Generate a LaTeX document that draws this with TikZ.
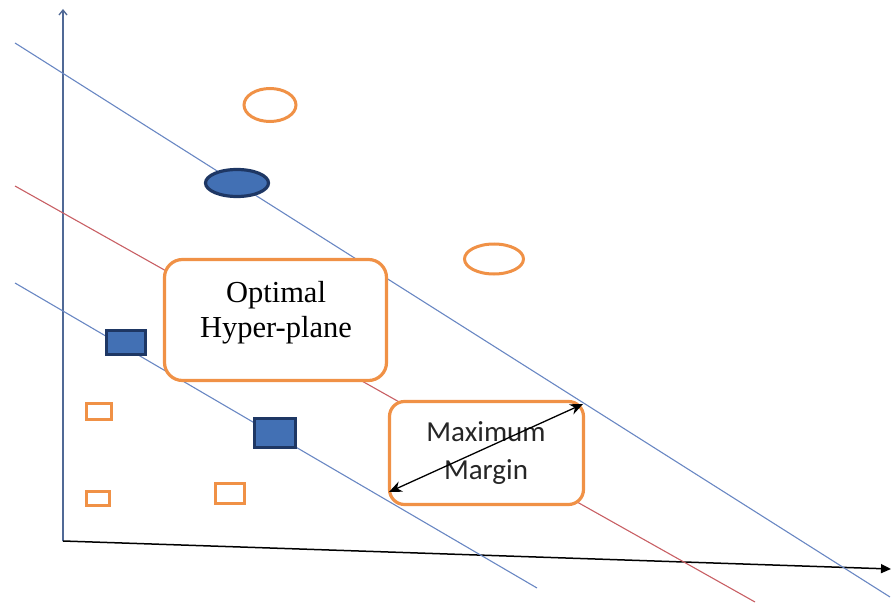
\documentclass[tikz,border=0pt]{standalone}
\usepackage{fontspec}
\setmainfont{Liberation Serif}
\newfontfamily\calfont{Carlito}
\usetikzlibrary{shapes.geometric,arrows.meta}

\definecolor{axisblue}{RGB}{80,105,150}
\definecolor{lineblue}{RGB}{105,135,195}
\definecolor{linered}{RGB}{200,95,100}
\definecolor{markorange}{RGB}{240,145,70}
\definecolor{markfill}{RGB}{66,112,180}
\definecolor{markedge}{RGB}{30,55,100}

\tikzset{
  sepline/.style={line width=1.1pt},
  oval/.style={ellipse, draw=markorange, line width=3pt, inner sep=0pt, fill=white},
  solidoval/.style={ellipse, draw=markedge, fill=markfill, line width=3.2pt, inner sep=0pt},
  hollowsq/.style={rectangle, draw=markorange, line width=2.8pt, inner sep=0pt, fill=white},
  solidsq/.style={rectangle, draw=markedge, fill=markfill, line width=2.8pt, inner sep=0pt},
  labelbox/.style={rectangle, draw=markorange, line width=3.2pt, fill=white, inner sep=0pt},
}

\begin{document}
\begin{tikzpicture}[x=1pt, y=-1pt]
\useasboundingbox (0,0) rectangle (891,604);

% axes
\coordinate (origin) at (63,541);
\coordinate (ytop) at (63,9);
\coordinate (xend) at (891,569);
\draw[axisblue, line width=1.3pt, -{Straight Barb[length=5pt, width=8pt]}] (origin) -- (ytop);
\draw[black, line width=1.5pt, -{Triangle[length=10pt, width=9pt]}] (origin) -- (xend);

% separating lines
\coordinate (u1) at (15,43);   \coordinate (u2) at (890,597);
\coordinate (r1) at (15,186);  \coordinate (r2) at (755,602);
\coordinate (l1) at (15,283);  \coordinate (l2) at (537,588);
\draw[lineblue, sepline] (u1) -- (u2);
\draw[linered, sepline] (r1) -- (r2);
\draw[lineblue, sepline] (l1) -- (l2);

% class markers
\node[oval, minimum width=52pt, minimum height=33pt] (o1) at (270,105) {};
\node[oval, minimum width=59pt, minimum height=30pt] (o2) at (494,259) {};
\node[solidoval, minimum width=63pt, minimum height=27pt] (s1) at (237,183) {};
\node[solidsq, minimum width=39pt, minimum height=24pt] (b1) at (126,342.5) {};
\node[solidsq, minimum width=41pt, minimum height=29pt] (b2) at (275,433) {};
\node[hollowsq, minimum width=25.5pt, minimum height=16.5pt] (q1) at (99,411.5) {};
\node[hollowsq, minimum width=23.5pt, minimum height=14.5pt] (q2) at (98,498.5) {};
\node[hollowsq, minimum width=29pt, minimum height=20pt] (q3) at (230,493.5) {};

% labels
\node[labelbox, rounded corners=18pt, minimum width=222pt, minimum height=121pt] (optbox) at (275.5,320) {};
\node[align=center, font=\fontsize{30.5}{35}\selectfont] (opttext) at (276,313) {Optimal\\Hyper-plane};

\node[labelbox, rounded corners=15pt, minimum width=194pt, minimum height=103pt] (marbox) at (486.5,453) {};
\node[align=center, text=black!85, font=\calfont\fontsize{29}{38}\selectfont] (martext) at (486,453) {Maximum\\Margin};

% margin arrow
\coordinate (m1) at (389,492);
\coordinate (m2) at (583,404);
\draw[black, line width=1.3pt, {Stealth[length=13pt, width=11pt]}-{Stealth[length=13pt, width=11pt]}] (m1) -- (m2);
\end{tikzpicture}
\end{document}
